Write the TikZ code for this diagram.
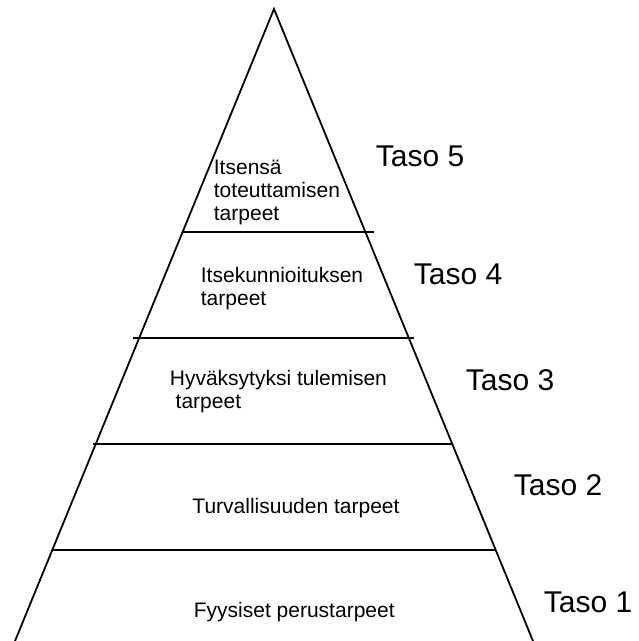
\documentclass[tikz,border=0pt]{standalone}
\usepackage{fontspec}
\setmainfont{Liberation Sans}
\usetikzlibrary{positioning}

\begin{document}
\begin{tikzpicture}[x = 1pt, y = -1pt, line width = 1.8pt,
		level/.style = { font = \fontsize{21}{23}\selectfont, inner sep = 0pt, align = left },
		taso/.style = { font = \fontsize{30}{36}\selectfont, inner sep = 0pt, anchor = base west }]
		\useasboundingbox (0, 0) rectangle (639, 641);

		% the pyramid, its base lies below the page
		\coordinate (apex)  at (274, 9);
		\coordinate (baseL) at (15, 641);
		\coordinate (baseR) at (533, 641);
		\draw (baseL) -- (apex) -- (baseR);

		\coordinate (l1a) at (183, 232);
		\coordinate (l1b) at (374, 232);
		\coordinate (l2a) at (133, 338);
		\coordinate (l2b) at (414, 338);
		\coordinate (l3a) at (93, 444);
		\coordinate (l3b) at (453, 444);
		\coordinate (l4a) at (53, 550);
		\coordinate (l4b) at (495, 550);

		\draw (l1a) -- (l1b);
		\draw (l2a) -- (l2b);
		\draw (l3a) -- (l3b);
		\draw (l4a) -- (l4b);

		\node [level, anchor = north west] (n5) at (213, 159.5) {Itsensä\\toteuttamisen\\tarpeet};
		\node [level, anchor = north west] (n4) at (200, 266.5) {Itsekunnioituksen\\tarpeet};
		\node [level, anchor = north west] (n3) at (169, 369.5) {Hyväksytyksi tulemisen\\\ tarpeet};
		\node [level, anchor = base]       (n2) at (296, 513)   {Turvallisuuden tarpeet};
		\node [level, anchor = base west]  (n1) at (193, 617)   {Fyysiset perustarpeet};

		\node [taso] (taso5) at (375, 166) {Taso 5};
		\node [taso] (taso4) at (413, 284) {Taso 4};
		\node [taso] (taso3) at (465, 390) {Taso 3};
		\node [taso] (taso2) at (513, 495) {Taso 2};
		\node [taso] (taso1) at (543, 612) {Taso 1};
	\end{tikzpicture}
\end{document}
